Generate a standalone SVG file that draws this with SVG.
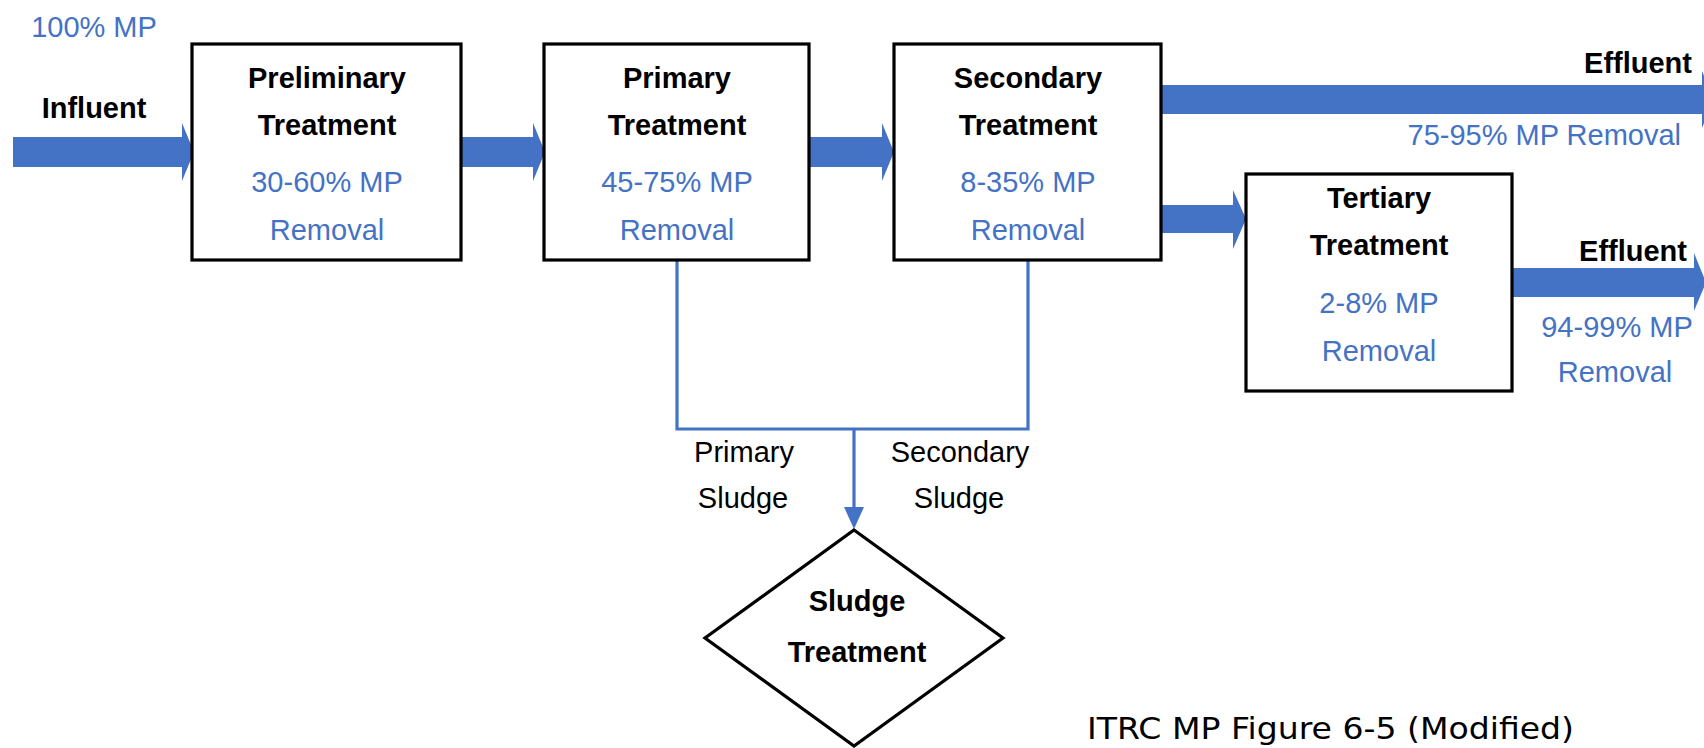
<svg xmlns="http://www.w3.org/2000/svg" width="1704" height="748" viewBox="0 0 1704 748">
<style>
.box{fill:#fff;stroke:#000;stroke-width:3.2}
.flow{fill:#4472C4}
.line{fill:none;stroke:#4472C4;stroke-width:3.2}
.t{font-family:"Liberation Sans",Arial,sans-serif;font-size:29px;text-anchor:middle}
.b{font-weight:bold;fill:#000}
.bl{fill:#4472C4}
.k{fill:#000}
.foot{font-family:"DejaVu Sans",Verdana,sans-serif;font-size:31px;fill:#000}
</style>
<rect width="1704" height="748" fill="#fff"/>

<g id="connectors">
  <polygon id="influent-arrow" class="flow" points="13,137 182,137 182,123 194,152 182,181 182,167 13,167"/>
  <polygon id="arrow-prelim-primary" class="flow" points="461,137 533,137 533,123 545,152 533,181 533,167 461,167"/>
  <polygon id="arrow-primary-secondary" class="flow" points="809,137 882,137 882,123 894,152 882,181 882,167 809,167"/>
  <polygon id="arrow-secondary-tertiary" class="flow" points="1161,205 1233,205 1233,190 1246,219 1233,249 1233,233 1161,233"/>
  <polygon id="arrow-effluent-top" class="flow" points="1161,85 1702,85 1702,71 1714,99.5 1702,128 1702,114 1161,114"/>
  <polygon id="arrow-effluent-bottom" class="flow" points="1512,268 1694,268 1694,253 1706,282.5 1694,311 1694,297 1512,297"/>
  <polyline class="line" points="677,260 677,429 1028,429 1028,260"/>
  <line class="line" x1="854" y1="429" x2="854" y2="509"/>
  <polygon class="flow" points="844,507 864,507 854,529"/>
</g>

<g id="label-100mp"><text class="t bl" x="94" y="37">100% MP</text></g>
<g id="label-influent"><text class="t b" x="94" y="118">Influent</text></g>

<g id="node-preliminary">
  <rect class="box" x="192" y="44" width="269" height="216"/>
  <text class="t b" x="327" y="88">Preliminary</text>
  <text class="t b" x="327" y="135">Treatment</text>
  <text class="t bl" x="327" y="192">30-60% MP</text>
  <text class="t bl" x="327" y="240">Removal</text>
</g>

<g id="node-primary">
  <rect class="box" x="544" y="44" width="265" height="216"/>
  <text class="t b" x="677" y="88">Primary</text>
  <text class="t b" x="677" y="135">Treatment</text>
  <text class="t bl" x="677" y="192">45-75% MP</text>
  <text class="t bl" x="677" y="240">Removal</text>
</g>

<g id="node-secondary">
  <rect class="box" x="894" y="44" width="267" height="216"/>
  <text class="t b" x="1028" y="88">Secondary</text>
  <text class="t b" x="1028" y="135">Treatment</text>
  <text class="t bl" x="1028" y="192">8-35% MP</text>
  <text class="t bl" x="1028" y="240">Removal</text>
</g>

<g id="node-tertiary">
  <rect class="box" x="1246" y="174" width="266" height="217"/>
  <text class="t b" x="1379" y="208">Tertiary</text>
  <text class="t b" x="1379" y="255">Treatment</text>
  <text class="t bl" x="1379" y="313">2-8% MP</text>
  <text class="t bl" x="1379" y="361">Removal</text>
</g>

<g id="label-effluent-top">
  <text class="t b" x="1692" y="73" style="text-anchor:end">Effluent</text>
  <text class="t bl" x="1681" y="145" style="text-anchor:end">75-95% MP Removal</text>
</g>

<g id="label-effluent-bottom">
  <text class="t b" x="1687" y="261" style="text-anchor:end">Effluent</text>
  <text class="t bl" x="1617" y="337">94-99% MP</text>
  <text class="t bl" x="1615" y="382">Removal</text>
</g>

<g id="label-primary-sludge">
  <text class="t k" x="744" y="462">Primary</text>
  <text class="t k" x="743" y="508">Sludge</text>
</g>
<g id="label-secondary-sludge">
  <text class="t k" x="960" y="462">Secondary</text>
  <text class="t k" x="959" y="508">Sludge</text>
</g>

<g id="node-sludge-treatment">
  <polygon class="box" points="854,530 1003,638 854,746 705,638"/>
  <text class="t b" x="857" y="611">Sludge</text>
  <text class="t b" x="857" y="662">Treatment</text>
</g>

<g id="caption">
  <text class="foot" x="1087" y="739" textLength="487" lengthAdjust="spacingAndGlyphs">ITRC MP Figure 6-5 (Modified)</text>
</g>
</svg>
